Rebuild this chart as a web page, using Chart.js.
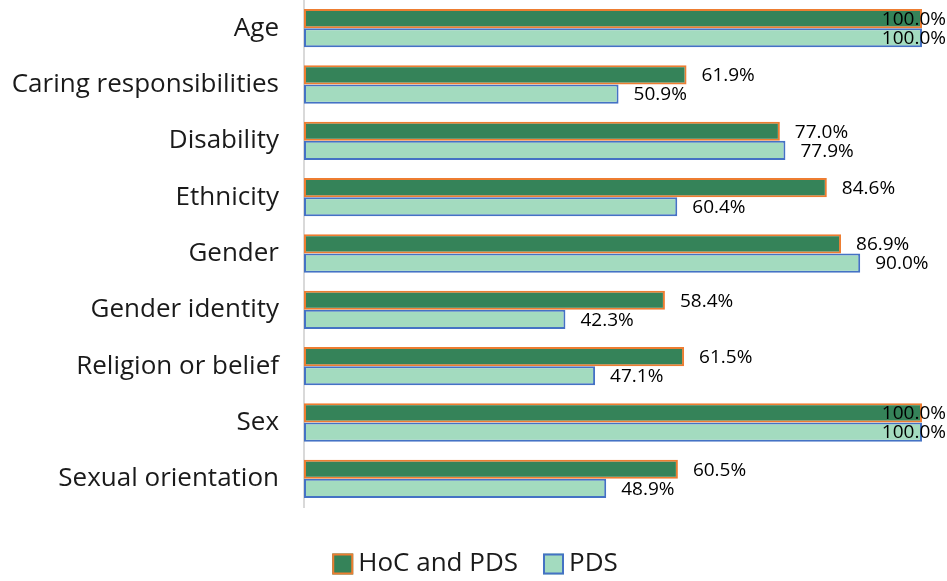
<!DOCTYPE html>
<html>
<head>
<meta charset="utf-8">
<script src="https://cdn.jsdelivr.net/npm/chart.js@4"></script>
<style>
    html, body { margin: 0; padding: 0; background: #ffffff; }
    #wrap { width: 947px; height: 581px; position: relative; }
</style>
</head>
<body>
<div id="wrap"><canvas id="chart"></canvas></div>
<script>
// Categories and values
const categories = ['Age', 'Caring responsibilities', 'Disability', 'Ethnicity', 'Gender',
    'Gender identity', 'Religion or belief', 'Sex', 'Sexual orientation'];
const hocAndPds = [100.0, 61.9, 77.0, 84.6, 86.9, 58.4, 61.5, 100.0, 60.5];
const pdsOnly = [100.0, 50.9, 77.9, 60.4, 90.0, 42.3, 47.1, 100.0, 48.9];

const FONT = "'Open Sans', 'Noto Sans', sans-serif";

// Value labels to the right of each bar (clamped to the canvas like Excel does)
const valueLabels = {
    id: 'valueLabels',
    afterDatasetsDraw(chart) {
        const ctx = chart.ctx;
        ctx.save();
        ctx.font = '19px ' + FONT;
        ctx.fillStyle = '#000000';
        ctx.textBaseline = 'middle';
        ctx.textAlign = 'left';
        chart.data.datasets.forEach((ds, i) => {
            const meta = chart.getDatasetMeta(i);
            meta.data.forEach((bar, j) => {
                const text = ds.data[j].toFixed(1) + '%';
                const w = ctx.measureText(text).width;
                let x = bar.x + 15;
                if (x + w > chart.width - 1) x = chart.width - 1 - w;
                ctx.fillText(text, x, bar.y + 1);
            });
        });
        ctx.restore();
    }
};

// Compact legend drawn under the plot (small gap between swatch and text)
const bottomLegend = {
    id: 'bottomLegend',
    afterDraw(chart) {
        const ctx = chart.ctx;
        const box = 21, gap = 5, itemGap = 25;
        ctx.save();
        ctx.font = '26px ' + FONT;
        ctx.textBaseline = 'middle';
        const items = chart.data.datasets.map(ds => ({
            text: ds.label, fill: ds.backgroundColor, stroke: ds.borderColor,
            w: box + gap + ctx.measureText(ds.label).width
        }));
        const total = items.reduce((a, it) => a + it.w, 0) + itemGap * (items.length - 1);
        let x = 475 - total / 2;
        const y = 564;
        items.forEach(it => {
            ctx.fillStyle = it.fill;
            ctx.fillRect(x, y - box / 2, box, box);
            ctx.strokeStyle = it.stroke;
            ctx.lineWidth = 2;
            ctx.strokeRect(x + 1, y - box / 2 + 1, box - 2, box - 2);
            ctx.fillStyle = '#1a1a1a';
            ctx.fillText(it.text, x + box + gap, y);
            x += it.w + itemGap;
        });
        ctx.restore();
    }
};

new Chart(document.getElementById('chart'), {
    type: 'bar',
    data: {
        labels: categories,
        datasets: [{
            label: 'HoC and PDS',
            data: hocAndPds,
            backgroundColor: '#358359',
            borderColor: '#ED7D31',
            borderWidth: 2,
            borderSkipped: false
        }, {
            label: 'PDS',
            data: pdsOnly,
            backgroundColor: '#A3DBBF',
            borderColor: '#4472C4',
            borderWidth: 2,
            borderSkipped: false
        }]
    },
    options: {
        indexAxis: 'y',
        responsive: true,
        maintainAspectRatio: false,
        animation: false,
        layout: {
            padding: { top: 0, right: 25, bottom: 0, left: 0 }
        },
        datasets: {
            bar: {
                categoryPercentage: 0.68,
                barPercentage: 1.0
            }
        },
        plugins: {
            legend: { display: false },
            tooltip: { enabled: false }
        },
        scales: {
            x: {
                min: 0,
                max: 100,
                ticks: { display: false },
                grid: { display: false, drawTicks: false },
                border: { display: false },
                afterFit(scale) { scale.height = 74; }
            },
            y: {
                grid: { display: false, drawTicks: false },
                border: { display: true, color: '#d9d9d9', width: 2 },
                ticks: {
                    color: '#1a1a1a',
                    padding: 25,
                    font: { family: FONT, size: 26 }
                },
                afterFit(scale) {
                    scale.width = 304;
                    scale.paddingTop = 0;
                    scale.paddingBottom = 0;
                }
            }
        }
    },
    plugins: [valueLabels, bottomLegend]
});
</script>
</body>
</html>
